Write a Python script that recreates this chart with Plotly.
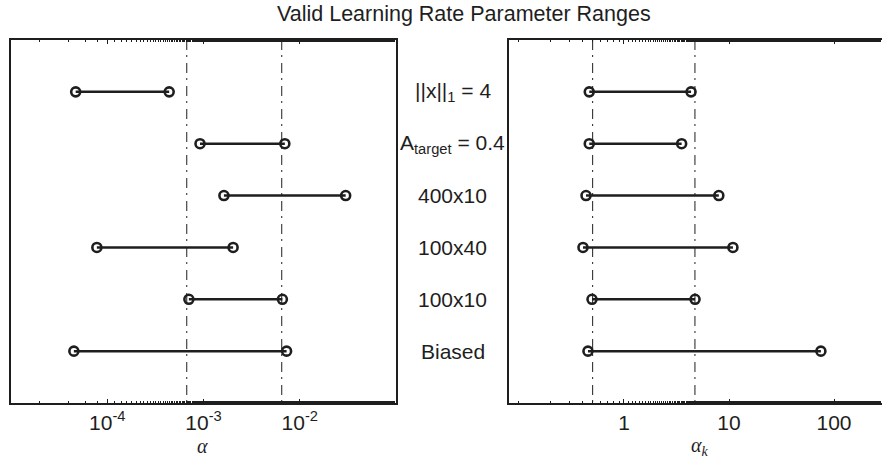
import plotly.graph_objects as go

# ---------------- data ----------------
categories = ["||x||<sub>1</sub> = 4", "A<sub>target</sub> = 0.4", "400x10", "100x40", "100x10", "Biased"]
rows = [1, 2, 3, 4, 5, 6]

alpha_low = [4.7e-5, 9.2e-4, 1.63e-3, 7.8e-5, 7.05e-4, 4.5e-5]
alpha_high = [4.4e-4, 7.0e-3, 3.0e-2, 2.03e-3, 6.6e-3, 7.3e-3]
alpha_bounds = [6.7e-4, 6.5e-3]

alphak_low = [0.467, 0.467, 0.435, 0.407, 0.496, 0.454]
alphak_high = [4.35, 3.54, 8.0, 10.9, 4.75, 75.0]
alphak_bounds = [0.503, 4.74]

alpha_ticks = [1e-4, 1e-3, 1e-2]
alpha_ticktext = ["10<sup>-4</sup>", "10<sup>-3</sup>", "10<sup>-2</sup>"]
alphak_ticks = [1, 10, 100]
alphak_ticktext = ["1", "10", "100"]

title = "Valid Learning Rate Parameter Ranges"

# ---------------- figure ----------------
W, H = 882, 461
INK = "#1e1e1e"
fig = go.Figure()

def add_ranges(lows, highs, xa, ya):
    for lo, hi, r in zip(lows, highs, rows):
        fig.add_trace(go.Scatter(
            x=[lo, hi], y=[r, r], mode="lines+markers",
            line=dict(color=INK, width=2.5),
            marker=dict(symbol="circle-open", size=9, color=INK, line=dict(width=2.6, color=INK)),
            xaxis=xa, yaxis=ya, showlegend=False, hoverinfo="skip"))

def add_bounds(bounds, xa, ya):
    for b in bounds:
        fig.add_trace(go.Scatter(
            x=[b, b], y=[0, 7], mode="lines",
            line=dict(color=INK, width=1, dash="10px,5px,2px,6px"),
            xaxis=xa, yaxis=ya, showlegend=False, hoverinfo="skip"))

add_bounds(alpha_bounds, "x", "y")
add_bounds(alphak_bounds, "x2", "y2")
add_ranges(alpha_low, alpha_high, "x", "y")
add_ranges(alphak_low, alphak_high, "x2", "y2")

ydom = [1 - 403 / H, 1 - 40 / H]
SANS = "Liberation Sans, Arial, sans-serif"
axfont = dict(family=SANS, size=21, color=INK)

common_x = dict(
    type="log", showgrid=False, zeroline=False, showline=True, linecolor=INK, linewidth=1.5,
    mirror="allticks", ticks="inside", ticklen=4, tickcolor=INK, tickwidth=1,
    minor=dict(ticks="inside", ticklen=2, tickcolor=INK, showgrid=False),
    tickfont=axfont, automargin=False,
)

fig.update_layout(
    width=W, height=H,
    margin=dict(l=0, r=0, t=0, b=0),
    paper_bgcolor="white", plot_bgcolor="white",
    xaxis=dict(common_x, domain=[11 / W, 396 / W], range=[-5.0, -1.0],
               tickvals=alpha_ticks, ticktext=alpha_ticktext, anchor="y"),
    yaxis=dict(domain=ydom, range=[7, 0], showgrid=False, zeroline=False, showticklabels=False,
               ticks="", showline=True, mirror=True, linecolor=INK, linewidth=1.5, anchor="x"),
    xaxis2=dict(common_x, domain=[509 / W, 1.0], range=[-1.095, 2.457],
                tickvals=alphak_ticks, ticktext=alphak_ticktext, anchor="y2"),
    yaxis2=dict(domain=ydom, range=[7, 0], showgrid=False, zeroline=False, showticklabels=False,
                ticks="", showline=True, mirror=False, linecolor=INK, linewidth=1.5, anchor="x2"),
)

# title
fig.add_annotation(text=title, x=463.5 / W, y=1 - 14 / H, xref="paper", yref="paper",
                   showarrow=False, xanchor="center", yanchor="middle",
                   font=dict(family=SANS, size=21.5, color=INK))

# center category labels
for cat, r in zip(categories, rows):
    fig.add_annotation(text=cat, x=452.5 / W, y=r, xref="paper", yref="y",
                       showarrow=False, xanchor="center", yanchor="middle",
                       font=dict(family=SANS, size=21, color=INK))

# axis titles
fig.add_annotation(text="<i>α</i>", x=202 / W, y=1 - 446 / H, xref="paper", yref="paper",
                   showarrow=False, xanchor="center", yanchor="middle",
                   font=dict(family="Liberation Serif, Times New Roman, serif", size=20, color=INK))
fig.add_annotation(text="<i>α<sub>k</sub></i>", x=700 / W, y=1 - 446 / H, xref="paper", yref="paper",
                   showarrow=False, xanchor="center", yanchor="middle",
                   font=dict(family="Liberation Serif, Times New Roman, serif", size=20, color=INK))

fig.write_html("out.html", config={"displayModeBar": False},
               post_script="document.body.style.margin='0px';document.body.style.overflow='hidden';")
